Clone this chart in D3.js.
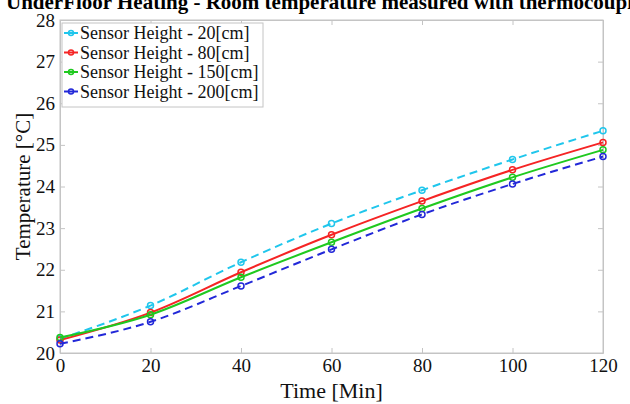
<!DOCTYPE html>
<html><head><meta charset="utf-8">
<script src="https://cdn.jsdelivr.net/npm/d3@7"></script>
<style>body{margin:0;background:#fff}svg{display:block}</style>
</head><body><svg id="c" width="630" height="404"></svg>
<script>
const times = [0, 20, 40, 60, 80, 100, 120];
const xTicks = [0, 20, 40, 60, 80, 100, 120];
const yTicks = [20, 21, 22, 23, 24, 25, 26, 27, 28];
const seriesNames = ["Sensor Height - 20[cm]", "Sensor Height - 80[cm]", "Sensor Height - 150[cm]", "Sensor Height - 200[cm]"];
const s20 = [20.34, 21.14, 22.18, 23.11, 23.91, 24.65, 25.34];
const s80 = [20.31, 20.97, 21.94, 22.84, 23.65, 24.40, 25.06];
const s150 = [20.37, 20.92, 21.82, 22.66, 23.47, 24.22, 24.88];
const s200 = [20.22, 20.75, 21.61, 22.49, 23.33, 24.06, 24.72];
const seriesValues = [s20, s80, s150, s200];
const colors = ["#1fc6ec", "#f52424", "#1fc91f", "#2228d8"];
const dashes = ["8,5", null, null, "8,5"];

const svg = d3.select("#c");
const L = 60, R = 603, T = 20, B = 353;
const x = d3.scaleLinear().domain([0, 120]).range([L, R]);
const y = d3.scaleLinear().domain([20, 28]).range([B, T]);
const serif = "'Liberation Serif','Times New Roman',serif";
const axisCol = "#c4c4c4";

svg.append("rect").attr("x", L).attr("y", T).attr("width", R - L).attr("height", B - T)
  .attr("fill", "none").attr("stroke", axisCol).attr("stroke-width", 1);

const gx = svg.append("g").attr("transform", `translate(0,${B})`)
  .call(d3.axisBottom(x).tickValues(xTicks).tickSizeInner(-5).tickSizeOuter(0).tickPadding(6));
const gxTop = svg.append("g").attr("transform", `translate(0,${T})`)
  .call(d3.axisTop(x).tickValues(xTicks).tickSizeInner(-5).tickSizeOuter(0).tickFormat(""));
const gy = svg.append("g").attr("transform", `translate(${L},0)`)
  .call(d3.axisLeft(y).tickValues(yTicks).tickSizeInner(-5).tickSizeOuter(0).tickPadding(5));
const gyR = svg.append("g").attr("transform", `translate(${R},0)`)
  .call(d3.axisRight(y).tickValues(yTicks).tickSizeInner(-5).tickSizeOuter(0).tickFormat(""));
[gx, gxTop, gy, gyR].forEach(g => {
  g.select(".domain").attr("stroke", axisCol);
  g.selectAll(".tick line").attr("stroke", axisCol);
  g.selectAll(".tick text").attr("font-family", serif).attr("font-size", 19).attr("fill", "#111");
});

const line = d3.line().x((d, i) => x(times[i])).y(d => y(d)).curve(d3.curveMonotoneX);
seriesValues.forEach((vals, k) => {
  svg.append("path").datum(vals).attr("d", line).attr("fill", "none")
    .attr("stroke", colors[k]).attr("stroke-width", 2)
    .attr("stroke-dasharray", dashes[k]);
  svg.append("g").selectAll("circle").data(vals).join("circle")
    .attr("cx", (d, i) => x(times[i])).attr("cy", d => y(d)).attr("r", 3)
    .attr("fill", "none").attr("stroke", colors[k]).attr("stroke-width", 1.5);
});

const lg = svg.append("g");
lg.append("rect").attr("x", 62).attr("y", 23).attr("width", 201).attr("height", 84)
  .attr("fill", "#fff").attr("stroke", axisCol);
seriesNames.forEach((n, k) => {
  const yy = 33 + k * 19.5;
  lg.append("line").attr("x1", 64).attr("x2", 78).attr("y1", yy).attr("y2", yy)
    .attr("stroke", colors[k]).attr("stroke-width", 2);
  lg.append("circle").attr("cx", 71).attr("cy", yy).attr("r", 2.5).attr("fill", "none")
    .attr("stroke", colors[k]).attr("stroke-width", 1.5);
  lg.append("text").attr("x", 80).attr("y", yy + 6).text(n)
    .attr("font-family", serif).attr("font-size", 18).attr("fill", "#111");
});

svg.append("text").attr("x", 6).attr("y", 9).attr("text-anchor", "start")
  .attr("font-family", serif).attr("font-weight", "bold").attr("font-size", 21).attr("fill", "#000")
  .text("UnderFloor Heating - Room temperature measured with thermocouple");
svg.append("text").attr("x", (L + R) / 2).attr("y", 398).attr("text-anchor", "middle")
  .attr("font-family", serif).attr("font-size", 22).attr("fill", "#111").text("Time [Min]");
svg.append("text").attr("transform", `translate(30,${(T + B) / 2}) rotate(-90)`).attr("text-anchor", "middle")
  .attr("font-family", serif).attr("font-size", 21).attr("fill", "#111").text("Temperature [°C]");
</script></body></html>
